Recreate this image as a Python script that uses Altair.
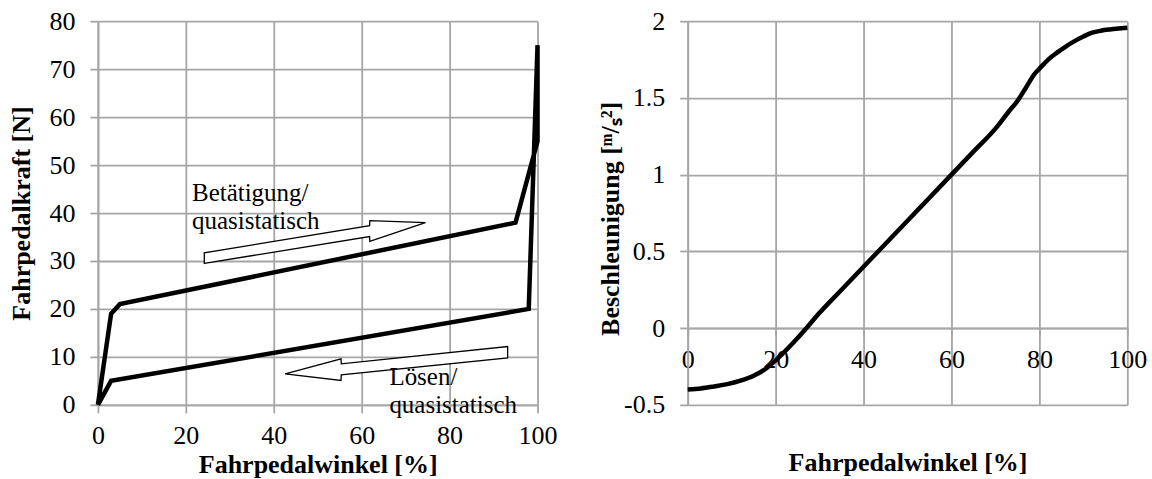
import altair as alt
import pandas as pd

FONT = "Liberation Serif"
GRID = "#a6a6a6"

# ---------- Left panel: pedal force loop ----------
loop_x = [0, 3, 5, 95, 100, 100, 98, 3, 0]
loop_y = [0, 19, 21, 38, 55, 75, 20, 5, 0]

# hollow arrows (x, lower edge, upper edge)
arrow1_x = [24.2, 61.8, 61.85, 74.5]
arrow1_lo = [29.5, 35.1, 34.1, 38.0]
arrow1_hi = [31.7, 37.35, 38.4, 38.0]

arrow2_x = [42.6, 55.3, 55.35, 93.2]
arrow2_lo = [6.46, 5.1, 6.25, 9.8]
arrow2_hi = [6.46, 9.6, 8.54, 12.15]

note_text = ["Betätigung/\nquasistatisch", "Lösen/\nquasistatisch"]
note_x = [21.4, 66.3]
note_y = [42.46, 4.12]

# ---------- Right panel: acceleration ----------
acc_x = [0, 3, 6, 9, 12, 15, 18, 20, 22, 25, 27, 30, 35, 40, 45, 50, 55, 60,
         65, 70, 73, 75, 77, 79, 80, 82, 84, 86, 88, 90, 92, 94, 96, 98, 100]
acc_y = [-0.40, -0.393, -0.38, -0.365, -0.342, -0.31, -0.26, -0.21, -0.155,
         -0.065, 0.0, 0.10, 0.25, 0.40, 0.55, 0.70, 0.85, 1.00, 1.15, 1.30,
         1.41, 1.48, 1.57, 1.66, 1.69, 1.75, 1.795, 1.835, 1.87, 1.90, 1.925,
         1.938, 1.946, 1.952, 1.957]

x_ticks = [0, 20, 40, 60, 80, 100]
left_y_ticks = [0, 10, 20, 30, 40, 50, 60, 70, 80]
right_y_ticks = [-0.5, 0, 0.5, 1, 1.5, 2]

W, H = 440, 384

loop_df = pd.DataFrame({"x": loop_x, "y": loop_y, "i": list(range(len(loop_x)))})
arrows_df = pd.DataFrame({
    "x": arrow1_x + arrow2_x,
    "y": arrow1_lo + arrow2_lo,
    "y2": arrow1_hi + arrow2_hi,
    "a": ["A"] * len(arrow1_x) + ["B"] * len(arrow2_x),
})
notes_df = pd.DataFrame({"x": note_x, "y": note_y, "t": note_text})
acc_df = pd.DataFrame({"x": acc_x, "y": acc_y})

common = dict(
    labelFont=FONT, labelFontSize=26, labelColor="black",
    titleFont=FONT, titleFontSize=26, titleFontWeight="bold", titleColor="black",
    gridColor=GRID, gridWidth=1.8, domainColor=GRID, domainWidth=1.8,
    tickColor=GRID, tickWidth=1.8, tickSize=8,
    labelFlush=False, labelOverlap=False,
)

xs_left = alt.Scale(domain=[0, 100], nice=False, zero=False)
ys_left = alt.Scale(domain=[0, 80], nice=False, zero=False)

left_x_axis = alt.Axis(
    values=x_ticks, title="Fahrpedalwinkel [%]", labelPadding=10,
    titleX=W / 2, titleY=67.7, titleAlign="center", titleBaseline="alphabetic",
    **common)
left_y_axis = alt.Axis(
    values=left_y_ticks, title="Fahrpedalkraft [N]", labelPadding=15,
    titleX=-68, titleY=H / 2, titleAngle=270, titleAlign="center",
    titleBaseline="alphabetic", **common)

LX = alt.X("x:Q", scale=xs_left, axis=left_x_axis, title="Fahrpedalwinkel [%]")
LY = alt.Y("y:Q", scale=ys_left, axis=left_y_axis, title="Fahrpedalkraft [N]")

left_line = alt.Chart(loop_df).mark_line(
    color="black", strokeWidth=4.5, strokeJoin="miter"
).encode(x=LX, y=LY, order=alt.Order("i:Q"))

left_arrows = alt.Chart(arrows_df).mark_area(
    fill="white", stroke="black", strokeWidth=1.3, fillOpacity=1
).encode(x=LX, y=LY, y2="y2:Q", detail="a:N")

left_notes = alt.Chart(notes_df).mark_text(
    align="left", baseline="alphabetic", font=FONT, fontSize=25, color="black",
    lineBreak="\n", lineHeight=28
).encode(x=LX, y=LY, text="t:N")

left = alt.layer(left_line, left_arrows, left_notes).properties(width=W, height=H)

xs_right = alt.Scale(domain=[0, 100], nice=False, zero=False)
ys_right = alt.Scale(domain=[-0.5, 2], nice=False, zero=False)

right = alt.Chart(acc_df).mark_line(
    color="black", strokeWidth=4.5, interpolate="monotone"
).encode(
    x=alt.X("x:Q", scale=xs_right, axis=alt.Axis(
        values=x_ticks, title="Fahrpedalwinkel [%]", labelPadding=10,
        offset=-76.8, titleX=W / 2, titleY=142.7, titleAlign="center",
        titleBaseline="alphabetic", **common)),
    y=alt.Y("y:Q", scale=ys_right, axis=alt.Axis(
        values=right_y_ticks, title="Beschleunigung [ᵐ/ₛ²]", labelPadding=15,
        labelExpr="'' + datum.value",
        titleX=-69.7, titleY=197.3, titleAngle=270, titleAlign="center",
        titleBaseline="alphabetic", **common)),
).properties(width=W, height=H)

chart = alt.hconcat(left, right, spacing=150.3, bounds="flush").properties(
    padding={"left": 9, "top": 8, "right": 5, "bottom": 5},
    background="white",
).configure_view(strokeWidth=0)

chart.save("out.html", embed_options={"renderer": "svg", "actions": False})
